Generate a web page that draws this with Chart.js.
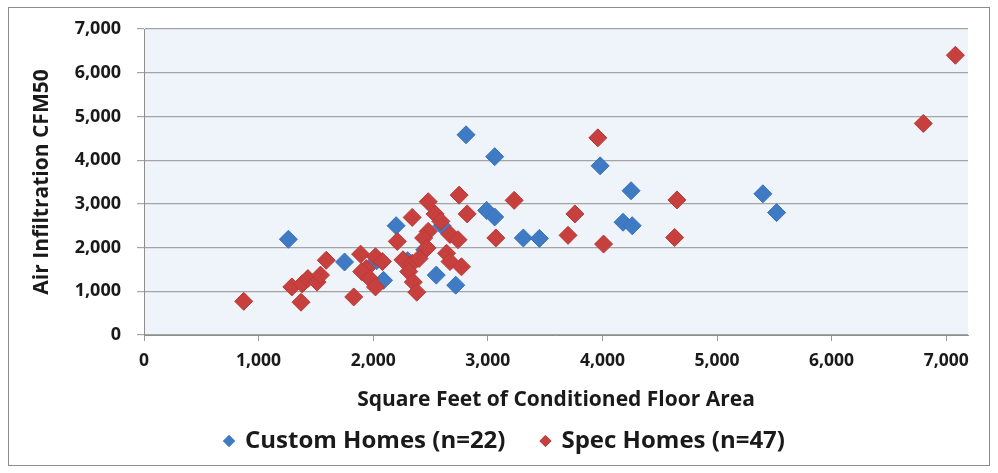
<!DOCTYPE html>
<html>
<head>
<meta charset="utf-8">
<script src="https://cdn.jsdelivr.net/npm/chart.js@4/dist/chart.umd.min.js"></script>
<style>
  html, body { margin: 0; padding: 0; background: #ffffff; }
  #wrap { position: relative; width: 998px; height: 473px; }
  #frame { position: absolute; left: 8px; top: 7px; width: 982px; height: 459px; border: 1px solid #8c8c8c; box-sizing: border-box; pointer-events: none; }
  canvas { position: absolute; left: 0; top: 0; }
</style>
</head>
<body>
<div id="wrap">
  <canvas id="chart" width="998" height="473"></canvas>
  <div id="frame"></div>
</div>
<script>
// Custom homes: conditioned floor area (sq ft) and measured leakage (CFM50)
const customSqft = [1260, 1750, 2200, 2090, 2550, 2720, 2810, 3060, 2990, 3060, 3310, 3450, 3980, 4250, 4180, 4260, 5400, 5520, 2030, 2450, 2600, 2300];
const customCfm  = [2190, 1670, 2500, 1250, 1370, 1140, 4580, 4080, 2850, 2700, 2220, 2210, 3870, 3300, 2580, 2500, 3230, 2800, 1700, 1950, 2500, 1700];

// Spec homes: conditioned floor area (sq ft) and measured leakage (CFM50)
const specSqft = [7080, 6800, 3960, 2750, 2820, 3230, 3070, 3760, 3700, 4010, 4650, 4630,
                  2480, 2340, 2540, 2590, 2480, 2440, 2670, 2740, 2210, 2470, 2640, 2670, 2770,
                  2260, 2340, 2400, 2310, 2350, 2380, 1890, 2020, 2080, 1940, 1900, 1970, 2020,
                  1830, 870, 1370, 1290, 1380, 1430, 1510, 1540, 1590];
const specCfm  = [6400, 4840, 4510, 3200, 2770, 3080, 2220, 2770, 2280, 2080, 3090, 2230,
                  3050, 2690, 2770, 2600, 2370, 2220, 2300, 2180, 2140, 1990, 1870, 1680, 1560,
                  1720, 1640, 1750, 1450, 1210, 980, 1850, 1790, 1680, 1520, 1450, 1290, 1100,
                  870, 770, 750, 1100, 1170, 1290, 1210, 1370, 1710];

// Axis tick values
const xTickValues = [0, 1000, 2000, 3000, 4000, 5000, 6000, 7000];
const yTickValues = [0, 1000, 2000, 3000, 4000, 5000, 6000, 7000];

const seriesNames = ['Custom Homes (n=22)', 'Spec Homes (n=47)'];
const xTitle = 'Square Feet of Conditioned Floor Area';
const yTitle = 'Air Infiltration CFM50';

const toPoints = (xs, ys) => xs.map((x, i) => ({ x: x, y: ys[i] }));

const FONT = "'Open Sans', 'DejaVu Sans', sans-serif";
const fmt = v => Number(v).toLocaleString('en-US');

// Light blue-grey fill behind the plotting area
const plotFill = {
  id: 'plotFill',
  beforeDraw(chart) {
    const { ctx, chartArea: a } = chart;
    ctx.save();
    ctx.fillStyle = '#eff4fa';
    ctx.fillRect(a.left, a.top, a.right - a.left, a.bottom - a.top);
    ctx.restore();
  }
};

// Move the legend row: a little right (under the plot) and up (the wide item
// gap also pads the row vertically)
const legendOffset = {
  id: 'legendOffset',
  afterLayout(chart) {
    const l = chart.legend;
    if (l) { l.left += 16; l.right += 16; l.top -= 28; l.bottom -= 28; }
  }
};

new Chart(document.getElementById('chart'), {
  type: 'scatter',
  data: {
    datasets: [
      {
        label: seriesNames[0],
        data: toPoints(customSqft, customCfm),
        pointStyle: 'rectRot',
        pointRadius: 9,
        pointHoverRadius: 9,
        backgroundColor: '#3f7bc4',
        borderColor: '#3a72b8',
        borderWidth: 1,
        order: 1
      },
      {
        label: seriesNames[1],
        data: toPoints(specSqft, specCfm),
        pointStyle: 'rectRot',
        pointRadius: 9,
        pointHoverRadius: 9,
        backgroundColor: '#c8403e',
        borderColor: '#b73a38',
        borderWidth: 1,
        order: 0
      }
    ]
  },
  options: {
    responsive: false,
    animation: false,
    layout: { padding: { left: 10, right: 30, top: 29, bottom: -18 } },
    plugins: {
      tooltip: { enabled: false },
      legend: {
        position: 'bottom',
        labels: {
          usePointStyle: true,
          pointStyle: 'rectRot',
          boxWidth: 8,
          boxHeight: 8,
          padding: 36,
          color: '#1a1a1a',
          font: { family: FONT, size: 24, weight: 'bold' },
          sort: (a, b) => a.datasetIndex - b.datasetIndex
        }
      }
    },
    scales: {
      x: {
        type: 'linear',
        min: 0,
        max: 7190,
        afterFit: s => { s.height = 86; },
        afterBuildTicks: s => { s.ticks = xTickValues.map(v => ({ value: v })); },
        border: { display: true, color: '#8e8e8e', width: 1 },
        grid: { drawOnChartArea: false, drawTicks: true, tickLength: 6, color: '#9a9a9a' },
        ticks: {
          padding: 10,
          maxRotation: 0,
          autoSkip: false,
          color: '#1a1a1a',
          font: { family: FONT, size: 17.5, weight: 'bold' },
          callback: v => fmt(v)
        },
        title: {
          display: true,
          text: xTitle,
          color: '#1a1a1a',
          padding: { top: 4, bottom: 8 },
          font: { family: FONT, size: 21, weight: 'bold' }
        }
      },
      y: {
        type: 'linear',
        min: 0,
        max: 7000,
        afterFit: s => { s.width = 134; },
        afterBuildTicks: s => { s.ticks = yTickValues.map(v => ({ value: v })); },
        border: { display: true, color: '#8e8e8e', width: 1 },
        grid: { color: '#a4a4a4', lineWidth: 1.2, tickLength: 7 },
        ticks: {
          padding: 16,
          color: '#1a1a1a',
          font: { family: FONT, size: 18, weight: 'bold' },
          callback: v => fmt(v)
        },
        title: {
          display: true,
          text: yTitle,
          color: '#1a1a1a',
          padding: { top: 19, bottom: 0 },
          font: { family: FONT, size: 21, weight: 'bold' }
        }
      }
    }
  },
  plugins: [plotFill, legendOffset]
});
</script>
</body>
</html>
